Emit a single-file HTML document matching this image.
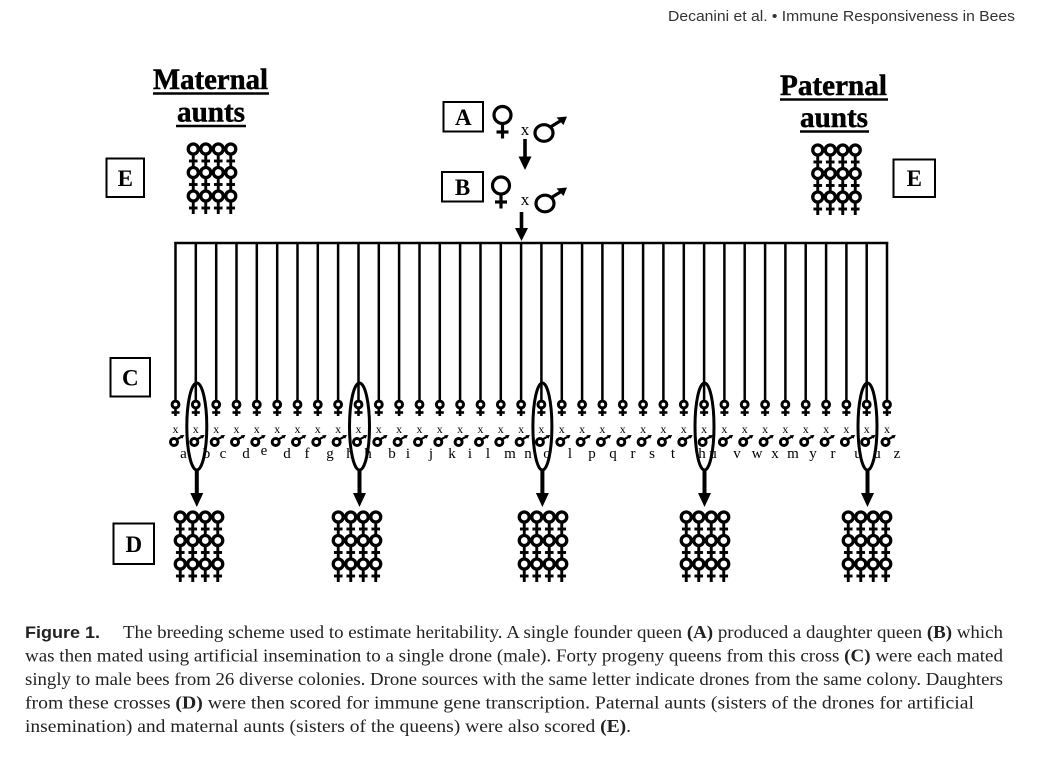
<!DOCTYPE html>
<html><head><meta charset="utf-8"><style>
html,body{margin:0;padding:0;background:#fff;}
svg{display:block;}
</style></head><body>
<svg width="1050" height="764" viewBox="0 0 1050 764" xmlns="http://www.w3.org/2000/svg">
<defs>
<g id="bf" fill="none" stroke="#000">
<circle cx="0" cy="0" r="5" stroke-width="3.3"/>
<line x1="0" y1="5.5" x2="0" y2="18" stroke-width="2.9"/>
<line x1="-4.3" y1="12" x2="4.3" y2="12" stroke-width="2.9"/>
</g>
<g id="cl">
<use href="#bf" x="-18.75" y="0"/><use href="#bf" x="-6.25" y="0"/><use href="#bf" x="6.25" y="0"/><use href="#bf" x="18.75" y="0"/>
<use href="#bf" x="-18.75" y="23.5"/><use href="#bf" x="-6.25" y="23.5"/><use href="#bf" x="6.25" y="23.5"/><use href="#bf" x="18.75" y="23.5"/>
<use href="#bf" x="-18.75" y="47"/><use href="#bf" x="-6.25" y="47"/><use href="#bf" x="6.25" y="47"/><use href="#bf" x="18.75" y="47"/>
</g>
<g id="col" fill="none" stroke="#000">
<line x1="0" y1="242" x2="0" y2="400.5" stroke-width="2.5"/>
<circle cx="0" cy="404.5" r="3.4" stroke-width="3"/>
<line x1="0" y1="408.5" x2="0" y2="416" stroke-width="2.6"/>
<line x1="-4" y1="412.5" x2="4" y2="412.5" stroke-width="2.6"/>
<circle cx="-1.5" cy="442" r="3.5" stroke-width="3"/>
<line x1="1.3" y1="439.3" x2="6" y2="436.8" stroke-width="2.2"/>
<polygon points="8.8,435 4.3,435.3 7,438.8" fill="#000" stroke="none"/>
</g>
</defs>

<!-- header -->
<text x="668" y="21" font-family="'Liberation Sans', sans-serif" font-size="14.5" fill="#333" textLength="347" lengthAdjust="spacingAndGlyphs">Decanini et al. • Immune Responsiveness in Bees</text>

<!-- aunts titles -->
<g font-family="'Liberation Serif', serif" font-weight="bold" fill="#000" stroke="#000" stroke-width="0.5">
<text x="153" y="89" font-size="29.5" textLength="115" lengthAdjust="spacingAndGlyphs">Maternal</text>
<text x="177" y="121.5" font-size="29.5" textLength="68" lengthAdjust="spacingAndGlyphs">aunts</text>
<text x="780" y="95" font-size="29.5" textLength="107" lengthAdjust="spacingAndGlyphs">Paternal</text>
<text x="800" y="127" font-size="29.5" textLength="68" lengthAdjust="spacingAndGlyphs">aunts</text>
</g>
<g stroke="#000" stroke-width="2.4">
<line x1="153" y1="93.5" x2="269" y2="93.5"/>
<line x1="176" y1="126" x2="246" y2="126"/>
<line x1="780" y1="99.5" x2="888" y2="99.5"/>
<line x1="800" y1="131.5" x2="869" y2="131.5"/>
</g>

<!-- boxes -->
<g fill="none" stroke="#000" stroke-width="2">
<rect x="106.5" y="158.5" width="37.5" height="38.5"/>
<rect x="893.5" y="159.5" width="41.5" height="37.5"/>
<rect x="443.5" y="102" width="39.5" height="29.5"/>
<rect x="442" y="172" width="41" height="29.5"/>
<rect x="110.5" y="358" width="39.5" height="38.5"/>
<rect x="113.5" y="523.5" width="40.5" height="40.5"/>
</g>
<g font-family="'Liberation Serif', serif" font-weight="bold" font-size="23" fill="#000" text-anchor="middle">
<text x="125.3" y="186">E</text>
<text x="914.3" y="186">E</text>
<text x="463.3" y="125">A</text>
<text x="462.5" y="195">B</text>
<text x="130.3" y="385.5">C</text>
<text x="133.8" y="552">D</text>
</g>

<!-- aunt clusters -->
<use href="#cl" x="212" y="149"/>
<use href="#cl" x="836.5" y="150"/>

<!-- A / B crosses -->
<g fill="none" stroke="#000" stroke-width="3.2">
<circle cx="502.5" cy="115" r="8.5"/>
<line x1="502.5" y1="124.5" x2="502.5" y2="138.5"/>
<line x1="496.5" y1="132" x2="508.5" y2="132"/>
<ellipse cx="544" cy="133" rx="9" ry="8.3"/>
<line x1="550.5" y1="127" x2="561" y2="120.5"/>
<circle cx="501" cy="185.5" r="8.5"/>
<line x1="501" y1="195" x2="501" y2="208.5"/>
<line x1="495" y1="202" x2="507" y2="202"/>
<ellipse cx="545" cy="203.5" rx="9" ry="8.3"/>
<line x1="551.5" y1="197.5" x2="561.5" y2="191.3"/>
</g>
<polygon points="567,116.5 556.5,117.5 563.5,125" fill="#000"/>
<polygon points="567,187.5 556.5,188.5 563.5,196" fill="#000"/>
<g font-family="'Liberation Serif', serif" font-size="17" fill="#000" text-anchor="middle">
<text x="525" y="135">x</text>
<text x="525" y="205">x</text>
</g>
<line x1="525" y1="139" x2="525" y2="158" stroke="#000" stroke-width="3.6"/>
<polygon points="518.5,156.5 531.5,156.5 525,170" fill="#000"/>
<line x1="521.5" y1="212" x2="521.5" y2="229" stroke="#000" stroke-width="3.6"/>
<polygon points="515,228 528,228 521.5,241" fill="#000"/>

<!-- main horizontal -->
<line x1="174.3" y1="243" x2="888.2" y2="243" stroke="#000" stroke-width="2.5"/>

<!-- columns -->
<use href="#col" x="175.5"/><use href="#col" x="195.8"/><use href="#col" x="216.2"/><use href="#col" x="236.5"/>
<use href="#col" x="256.8"/><use href="#col" x="277.2"/><use href="#col" x="297.5"/><use href="#col" x="317.8"/>
<use href="#col" x="338.1"/><use href="#col" x="358.5"/><use href="#col" x="378.8"/><use href="#col" x="399.1"/>
<use href="#col" x="419.5"/><use href="#col" x="439.8"/><use href="#col" x="460.1"/><use href="#col" x="480.5"/>
<use href="#col" x="500.8"/><use href="#col" x="521.1"/><use href="#col" x="541.4"/><use href="#col" x="561.8"/>
<use href="#col" x="582.1"/><use href="#col" x="602.4"/><use href="#col" x="622.8"/><use href="#col" x="643.1"/>
<use href="#col" x="663.4"/><use href="#col" x="683.8"/><use href="#col" x="704.1"/><use href="#col" x="724.4"/>
<use href="#col" x="744.7"/><use href="#col" x="765.1"/><use href="#col" x="785.4"/><use href="#col" x="805.7"/>
<use href="#col" x="826.1"/><use href="#col" x="846.4"/><use href="#col" x="866.7"/><use href="#col" x="887"/>

<!-- x labels -->
<g font-family="'Liberation Serif', serif" font-size="12" fill="#000" text-anchor="middle">
<text x="175.5" y="433">x</text><text x="195.8" y="433">x</text><text x="216.2" y="433">x</text><text x="236.5" y="433">x</text>
<text x="256.8" y="433">x</text><text x="277.2" y="433">x</text><text x="297.5" y="433">x</text><text x="317.8" y="433">x</text>
<text x="338.1" y="433">x</text><text x="358.5" y="433">x</text><text x="378.8" y="433">x</text><text x="399.1" y="433">x</text>
<text x="419.5" y="433">x</text><text x="439.8" y="433">x</text><text x="460.1" y="433">x</text><text x="480.5" y="433">x</text>
<text x="500.8" y="433">x</text><text x="521.1" y="433">x</text><text x="541.4" y="433">x</text><text x="561.8" y="433">x</text>
<text x="582.1" y="433">x</text><text x="602.4" y="433">x</text><text x="622.8" y="433">x</text><text x="643.1" y="433">x</text>
<text x="663.4" y="433">x</text><text x="683.8" y="433">x</text><text x="704.1" y="433">x</text><text x="724.4" y="433">x</text>
<text x="744.7" y="433">x</text><text x="765.1" y="433">x</text><text x="785.4" y="433">x</text><text x="805.7" y="433">x</text>
<text x="826.1" y="433">x</text><text x="846.4" y="433">x</text><text x="866.7" y="433">x</text><text x="887" y="433">x</text>
</g>

<!-- colony letters -->
<g font-family="'Liberation Serif', serif" font-size="15" fill="#000" text-anchor="middle">
<text x="183.5" y="458">a</text><text x="206.5" y="458">b</text><text x="223" y="458">c</text><text x="246" y="458">d</text>
<text x="264" y="455">e</text><text x="287" y="458">d</text><text x="307" y="458">f</text><text x="330" y="458">g</text>
<text x="350" y="458">h</text><text x="368" y="458">h</text><text x="392" y="458">b</text><text x="408" y="458">i</text>
<text x="431" y="458">j</text><text x="452" y="458">k</text><text x="470" y="458">i</text><text x="488" y="458">l</text>
<text x="510" y="458">m</text><text x="528" y="458">n</text><text x="547" y="458">o</text><text x="570" y="458">l</text>
<text x="592" y="458">p</text><text x="613" y="458">q</text><text x="633" y="458">r</text><text x="652" y="458">s</text>
<text x="673" y="458">t</text><text x="702" y="458">h</text><text x="713" y="458">u</text><text x="737" y="458">v</text>
<text x="757" y="458">w</text><text x="775" y="458">x</text><text x="793" y="458">m</text><text x="813" y="458">y</text>
<text x="833" y="458">r</text><text x="858" y="458">u</text><text x="877" y="458">u</text><text x="897" y="458">z</text>
</g>

<!-- ellipses -->
<g fill="none" stroke="#000" stroke-width="3">
<ellipse cx="196.8" cy="426.5" rx="10" ry="43.5"/>
<ellipse cx="359.5" cy="426.5" rx="10" ry="43.5"/>
<ellipse cx="542.4" cy="426.5" rx="9.5" ry="43.5"/>
<ellipse cx="704.5" cy="426.5" rx="9.5" ry="43.5"/>
<ellipse cx="867.5" cy="426.5" rx="9.5" ry="43.5"/>
</g>

<!-- arrows to daughters -->
<g stroke="#000" stroke-width="4">
<line x1="196.8" y1="470" x2="196.8" y2="495"/>
<line x1="359.5" y1="470" x2="359.5" y2="495"/>
<line x1="542.4" y1="470" x2="542.4" y2="495"/>
<line x1="704.5" y1="470" x2="704.5" y2="495"/>
<line x1="867.5" y1="470" x2="867.5" y2="495"/>
</g>
<g fill="#000">
<polygon points="190.3,493 203.3,493 196.8,507"/>
<polygon points="353,493 366,493 359.5,507"/>
<polygon points="535.9,493 548.9,493 542.4,507"/>
<polygon points="698,493 711,493 704.5,507"/>
<polygon points="861,493 874,493 867.5,507"/>
</g>

<!-- daughter clusters -->
<use href="#cl" x="199" y="517"/>
<use href="#cl" x="357" y="517"/>
<use href="#cl" x="543" y="517"/>
<use href="#cl" x="705" y="517"/>
<use href="#cl" x="867" y="517"/>

<!-- caption -->
<text x="25" y="638" font-family="'Liberation Sans', sans-serif" font-weight="bold" font-size="17" fill="#222" textLength="75" lengthAdjust="spacingAndGlyphs">Figure 1.</text>
<g font-family="'Liberation Serif', serif" font-size="18.3" fill="#222">
<text x="123" y="638" textLength="880" lengthAdjust="spacingAndGlyphs">The breeding scheme used to estimate heritability. A single founder queen <tspan font-weight="bold">(A)</tspan> produced a daughter queen <tspan font-weight="bold">(B)</tspan> which</text>
<text x="25" y="661.5" textLength="978" lengthAdjust="spacingAndGlyphs">was then mated using artificial insemination to a single drone (male). Forty progeny queens from this cross <tspan font-weight="bold">(C)</tspan> were each mated</text>
<text x="25" y="685" textLength="978" lengthAdjust="spacingAndGlyphs">singly to male bees from 26 diverse colonies. Drone sources with the same letter indicate drones from the same colony. Daughters</text>
<text x="25" y="708.5" textLength="949" lengthAdjust="spacingAndGlyphs">from these crosses <tspan font-weight="bold">(D)</tspan> were then scored for immune gene transcription. Paternal aunts (sisters of the drones for artificial</text>
<text x="25" y="732" textLength="606" lengthAdjust="spacingAndGlyphs">insemination) and maternal aunts (sisters of the queens) were also scored <tspan font-weight="bold">(E)</tspan>.</text>
</g>
</svg>
</body></html>
